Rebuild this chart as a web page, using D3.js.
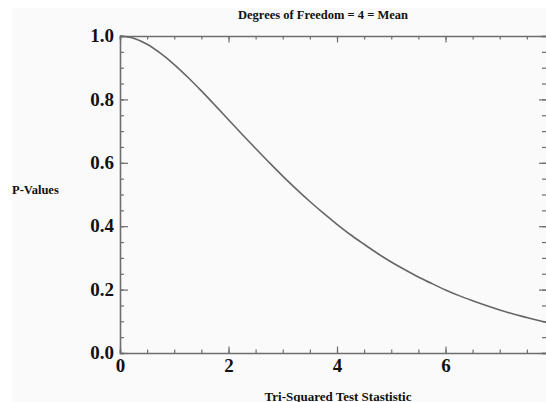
<!DOCTYPE html>
<html>
<head>
<meta charset="utf-8">
<script src="https://cdn.jsdelivr.net/npm/d3@7"></script>
<style>
  html, body { margin: 0; padding: 0; background: #ffffff; }
  svg { display: block; }
  text { font-family: "Liberation Serif", "DejaVu Serif", serif; font-weight: bold; fill: #111; }
</style>
</head>
<body>
<svg id="chart" width="546" height="402"></svg>
<script>
// Data
const statValues = [0, 0.25, 0.5, 0.75, 1, 1.25, 1.5, 1.75, 2, 2.25, 2.5, 2.75, 3, 3.25, 3.5, 3.75, 4,
                    4.25, 4.5, 4.75, 5, 5.25, 5.5, 5.75, 6, 6.25, 6.5, 6.75, 7, 7.25, 7.5, 7.75, 8];
const pValues    = [1.0, 0.993, 0.974, 0.945, 0.910, 0.870, 0.827, 0.782, 0.736, 0.690, 0.645, 0.601, 0.558, 0.517, 0.478, 0.441, 0.406,
                    0.373, 0.343, 0.314, 0.287, 0.263, 0.240, 0.219, 0.199, 0.181, 0.165, 0.150, 0.136, 0.123, 0.112, 0.101, 0.092];
const xTickLabels = [0, 2, 4, 6, 8];
const yTickLabels = [0.0, 0.2, 0.4, 0.6, 0.8, 1.0];
const titleText = "Degrees of Freedom = 4 = Mean";
const xTitle = "Tri-Squared Test Stastistic";
const yTitle = "P-Values";

const svg = d3.select("#chart");
const W = 546, H = 402;

svg.append("rect").attr("x", 12).attr("y", 8).attr("width", W - 12).attr("height", H - 8).attr("fill", "#fafafa");

const x = d3.scaleLinear().domain([0, 8]).range([120, 554]);
const y = d3.scaleLinear().domain([0, 1]).range([353, 36]);

const axisColor = "#6e6e6e";

function styleAxis(g) {
  g.select(".domain").attr("stroke", axisColor).attr("stroke-width", 1.6);
  g.selectAll(".tick line").attr("stroke", axisColor).attr("stroke-width", 1.2);
}

const xMinor = d3.range(0, 8.001, 0.5);
const yMinor = d3.range(0, 1.0001, 0.05);

// Bottom axis
const gB = svg.append("g").attr("transform", `translate(0,${y(0)})`);
gB.call(d3.axisBottom(x).tickValues(xMinor).tickSize(-3.5).tickFormat(""));
styleAxis(gB);
const gB2 = svg.append("g").attr("transform", `translate(0,${y(0)})`);
gB2.call(d3.axisBottom(x).tickValues(xTickLabels).tickSize(-6.5).tickPadding(7).tickFormat(d3.format("d")));
gB2.select(".domain").remove();
gB2.selectAll(".tick line").attr("stroke", axisColor).attr("stroke-width", 1.2);
gB2.selectAll(".tick text").attr("font-size", 19).attr("font-family", "Liberation Serif").attr("font-weight", "bold").attr("fill", "#111").attr("dy", "0.62em");

// Top axis
const gT = svg.append("g").attr("transform", `translate(0,${y(1)})`);
gT.call(d3.axisTop(x).tickValues(xMinor).tickSize(-3.5).tickFormat(""));
styleAxis(gT);
const gT2 = svg.append("g").attr("transform", `translate(0,${y(1)})`);
gT2.call(d3.axisTop(x).tickValues(xTickLabels).tickSize(-6.5).tickFormat(""));
gT2.select(".domain").remove();
gT2.selectAll(".tick line").attr("stroke", axisColor).attr("stroke-width", 1.2);

// Left axis
const gL = svg.append("g").attr("transform", `translate(${x(0)},0)`);
gL.call(d3.axisLeft(y).tickValues(yMinor).tickSize(-4).tickFormat(""));
styleAxis(gL);
const gL2 = svg.append("g").attr("transform", `translate(${x(0)},0)`);
gL2.call(d3.axisLeft(y).tickValues(yTickLabels).tickSize(-8).tickPadding(6).tickFormat(d3.format(".1f")));
gL2.select(".domain").remove();
gL2.selectAll(".tick line").attr("stroke", axisColor).attr("stroke-width", 1.2);
gL2.selectAll(".tick text").attr("font-size", 19).attr("font-family", "Liberation Serif").attr("font-weight", "bold").attr("fill", "#111").attr("x", -6).attr("dy", "0.3em");

// Right axis
const gR = svg.append("g").attr("transform", `translate(${x(8)},0)`);
gR.call(d3.axisRight(y).tickValues(yMinor).tickSize(-12).tickFormat(""));
styleAxis(gR);
const gR2 = svg.append("g").attr("transform", `translate(${x(8)},0)`);
gR2.call(d3.axisRight(y).tickValues(yTickLabels).tickSize(-15).tickFormat(""));
gR2.select(".domain").remove();
gR2.selectAll(".tick line").attr("stroke", axisColor).attr("stroke-width", 1.2);

// Curve
const data = statValues.map((s, i) => ({ s, p: pValues[i] }));
const line = d3.line().x(d => x(d.s)).y(d => y(d.p)).curve(d3.curveCatmullRom.alpha(0.5));
svg.append("path").datum(data)
  .attr("d", line)
  .attr("fill", "none")
  .attr("stroke", "#666")
  .attr("stroke-width", 1.6);

// Titles
svg.append("text").attr("x", 323).attr("y", 19).attr("text-anchor", "middle")
  .attr("font-size", 12.5).text(titleText);
svg.append("text").attr("x", 338).attr("y", 401).attr("text-anchor", "middle")
  .attr("font-size", 13).text(xTitle);
svg.append("text").attr("x", 12).attr("y", 194).attr("text-anchor", "start")
  .attr("font-size", 12.5).text(yTitle);
</script>
</body>
</html>
